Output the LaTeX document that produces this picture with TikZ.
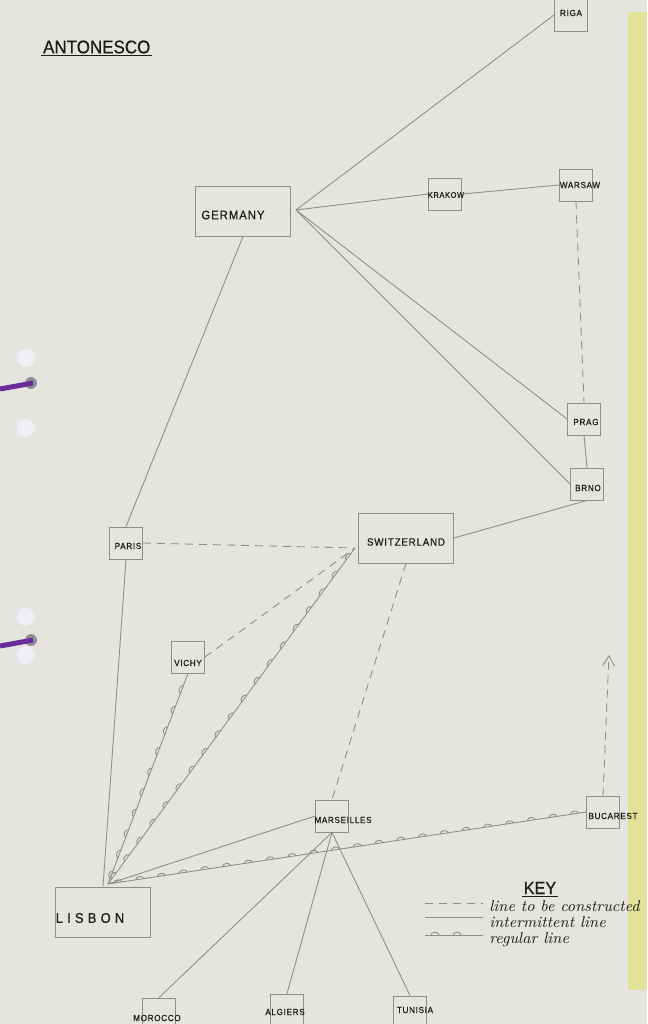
\documentclass[tikz,border=0pt]{standalone}
\usepackage{fontspec}
\newfontfamily\handfont[LetterSpace=8,FakeStretch=0.92,FakeBold=0.6]{Liberation Sans}
\usetikzlibrary{calc,positioning,arrows.meta,decorations.markings}
\definecolor{paper}{HTML}{E5E4DE}
\definecolor{sidebar}{HTML}{E3E29A}
\definecolor{pencil}{HTML}{8E8D89}
\definecolor{ink}{HTML}{1C1C1C}
\definecolor{string}{HTML}{6A2C9A}
\definecolor{hole}{HTML}{F0EEF4}

\tikzset{
smallbox/.style={rectangle,draw=pencil,line width=0.5pt,minimum width=6.6mm,minimum height=6.4mm,inner sep=0pt},
bigbox/.style={rectangle,draw=pencil,line width=0.5pt,minimum width=19mm,minimum height=10mm,inner sep=0pt},
townname/.style={text=ink,inner sep=0pt,font=\handfont\fontsize{5}{6}\selectfont},
bigname/.style={text=ink,inner sep=0pt,font=\handfont\fontsize{7}{8}\selectfont},
intermittent/.style={draw=pencil,line width=0.5pt},
construct/.style={draw=pencil,line width=0.5pt,dash pattern=on 1.6mm off 1.2mm},
regular/.style={draw=pencil,line width=0.5pt,postaction={decorate,decoration={markings,
  mark=between positions 2mm and -2mm step 4.4mm with {\draw[pencil,line width=0.5pt] (-0.8mm,0) arc[start angle=180,end angle=0,x radius=0.8mm,y radius=0.55mm];}}}},
keytext/.style={text=ink,anchor=west,inner sep=0pt,font=\itshape\fontsize{9}{10}\selectfont}
}

\begin{document}
\begin{tikzpicture}[x=0.2mm,y=-0.2mm]
\fill[paper] (0,0) rectangle (647,1024);
\fill[sidebar] (628,12) rectangle (647,990);
\useasboundingbox (0,0) rectangle (647,1024);
\foreach \y in {358,428,617,655} \fill[hole] (26,\y) circle (9);
\foreach \y in {383,640} \fill[hole!60!black] (31,\y) circle (6);
\draw[string,line width=1mm] (0,389) -- (33,383);
\draw[string,line width=1mm] (0,646) -- (33,640);

\node[anchor=west,text=ink,inner sep=1pt,font=\handfont\fontsize{10.5}{12}\selectfont\addfontfeature{LetterSpace=0}](title) at (41,47) {ANTONESCO};
\draw[ink,line width=0.7pt] (title.south west) -- (title.south east);

\node[smallbox](riga) at (571,15) {};
\node[bigbox](germany) at (243,211) {};
\node[smallbox](krakow) at (445,194) {};
\node[smallbox](warsaw) at (576,185) {};
\node[smallbox](prag) at (584,419) {};
\node[smallbox](brno) at (587,484) {};
\node[smallbox](paris) at (126,543) {};
\node[bigbox](switz) at (406,538) {};
\node[smallbox](vichy) at (188,657) {};
\node[smallbox](marseilles) at (332,816) {};
\node[smallbox](bucarest) at (603,812) {};
\node[bigbox](lisbon) at (103,912) {};
\node[smallbox](morocco) at (159,1014) {};
\node[smallbox](algiers) at (287,1010) {};
\node[smallbox](tunisia) at (410,1012) {};

\node[townname](rigatxt) at (571,13) {RIGA};
\node[bigname](germanytxt) at (233,215) {GERMANY};
\node[townname,font=\handfont\fontsize{4.6}{6}\selectfont](krakowtxt) at (446,195) {KRAKOW};
\node[townname](warsawtxt) at (580,185) {WARSAW};
\node[townname](pragtxt) at (586,422) {PRAG};
\node[townname](brnotxt) at (588,488) {BRNO};
\node[townname](paristxt) at (128,546) {PARIS};
\node[bigname,font=\handfont\fontsize{6}{7}\selectfont](switztxt) at (406,542) {SWITZERLAND};
\node[townname](vichytxt) at (188,663) {VICHY};
\node[townname](marseillestxt) at (343,820) {MARSEILLES};
\node[townname](bucaresttxt) at (613,816) {BUCAREST};
\node[bigname,font=\handfont\fontsize{8}{9}\selectfont\addfontfeature{LetterSpace=30}](lisbontxt) at (90,918) {LISBON};
\node[townname](moroccotxt) at (157,1018) {MOROCCO};
\node[townname](algierstxt) at (285,1012) {ALGIERS};
\node[townname](tunisiatxt) at (415,1010) {TUNISIA};

\coordinate (gp) at (296,210);
\coordinate (sp) at (355,548);
\coordinate (lp) at (108,884);
\coordinate (bt) at (609,655);

\draw[intermittent] (gp)--(riga.west);
\draw[intermittent] (gp)--(krakow.west);
\draw[intermittent] (krakow.east)--(warsaw.west);
\draw[intermittent] (gp)--(prag.west);
\draw[intermittent] (gp)--(brno.west);
\draw[intermittent] (germany.south)--(paris.north);
\draw[intermittent] (paris.south)--(lisbon.north);
\draw[intermittent] (prag.south)--(brno.north);
\draw[intermittent] (switz.east)--(brno.south);
\draw[intermittent] (marseilles.west)--(lp);
\draw[intermittent] (marseilles.south)--(morocco.north);
\draw[intermittent] (marseilles.south)--(algiers.north);
\draw[intermittent] (marseilles.south)--(tunisia.north);

\draw[construct] (paris.east)--(sp);
\draw[construct] (vichy.east)--(sp);
\draw[construct] (switz.south)--(marseilles.north);
\draw[construct] (warsaw.south)--(prag.north);
\draw[construct,-{Straight Barb[length=2mm,width=2.4mm]}] (bucarest.north)--(bt);

\draw[regular] (lp)--(vichy.south);
\draw[regular] (lp)--(sp);
\draw[regular] (lp)--(bucarest.west);

\node[text=ink,inner sep=1pt,font=\handfont\fontsize{10}{11}\selectfont\addfontfeature{LetterSpace=0}](key) at (540,888) {KEY};
\draw[ink,line width=0.6pt] (key.south west)--(key.south east);
\coordinate (ka) at (425,903); \coordinate (kb) at (483,903);
\coordinate (kc) at (425,917); \coordinate (kd) at (483,917);
\coordinate (ke) at (425,935); \coordinate (kf) at (483,935);
\draw[construct] (ka)--(kb);
\draw[intermittent] (kc)--(kd);
\draw[regular] (ke)--(kf);
\node[keytext](keya) at (489,906) {line to be constructed};
\node[keytext](keyb) at (489,922) {intermittent line};
\node[keytext](keyc) at (489,940) {regular line};
\end{tikzpicture}
\end{document}
